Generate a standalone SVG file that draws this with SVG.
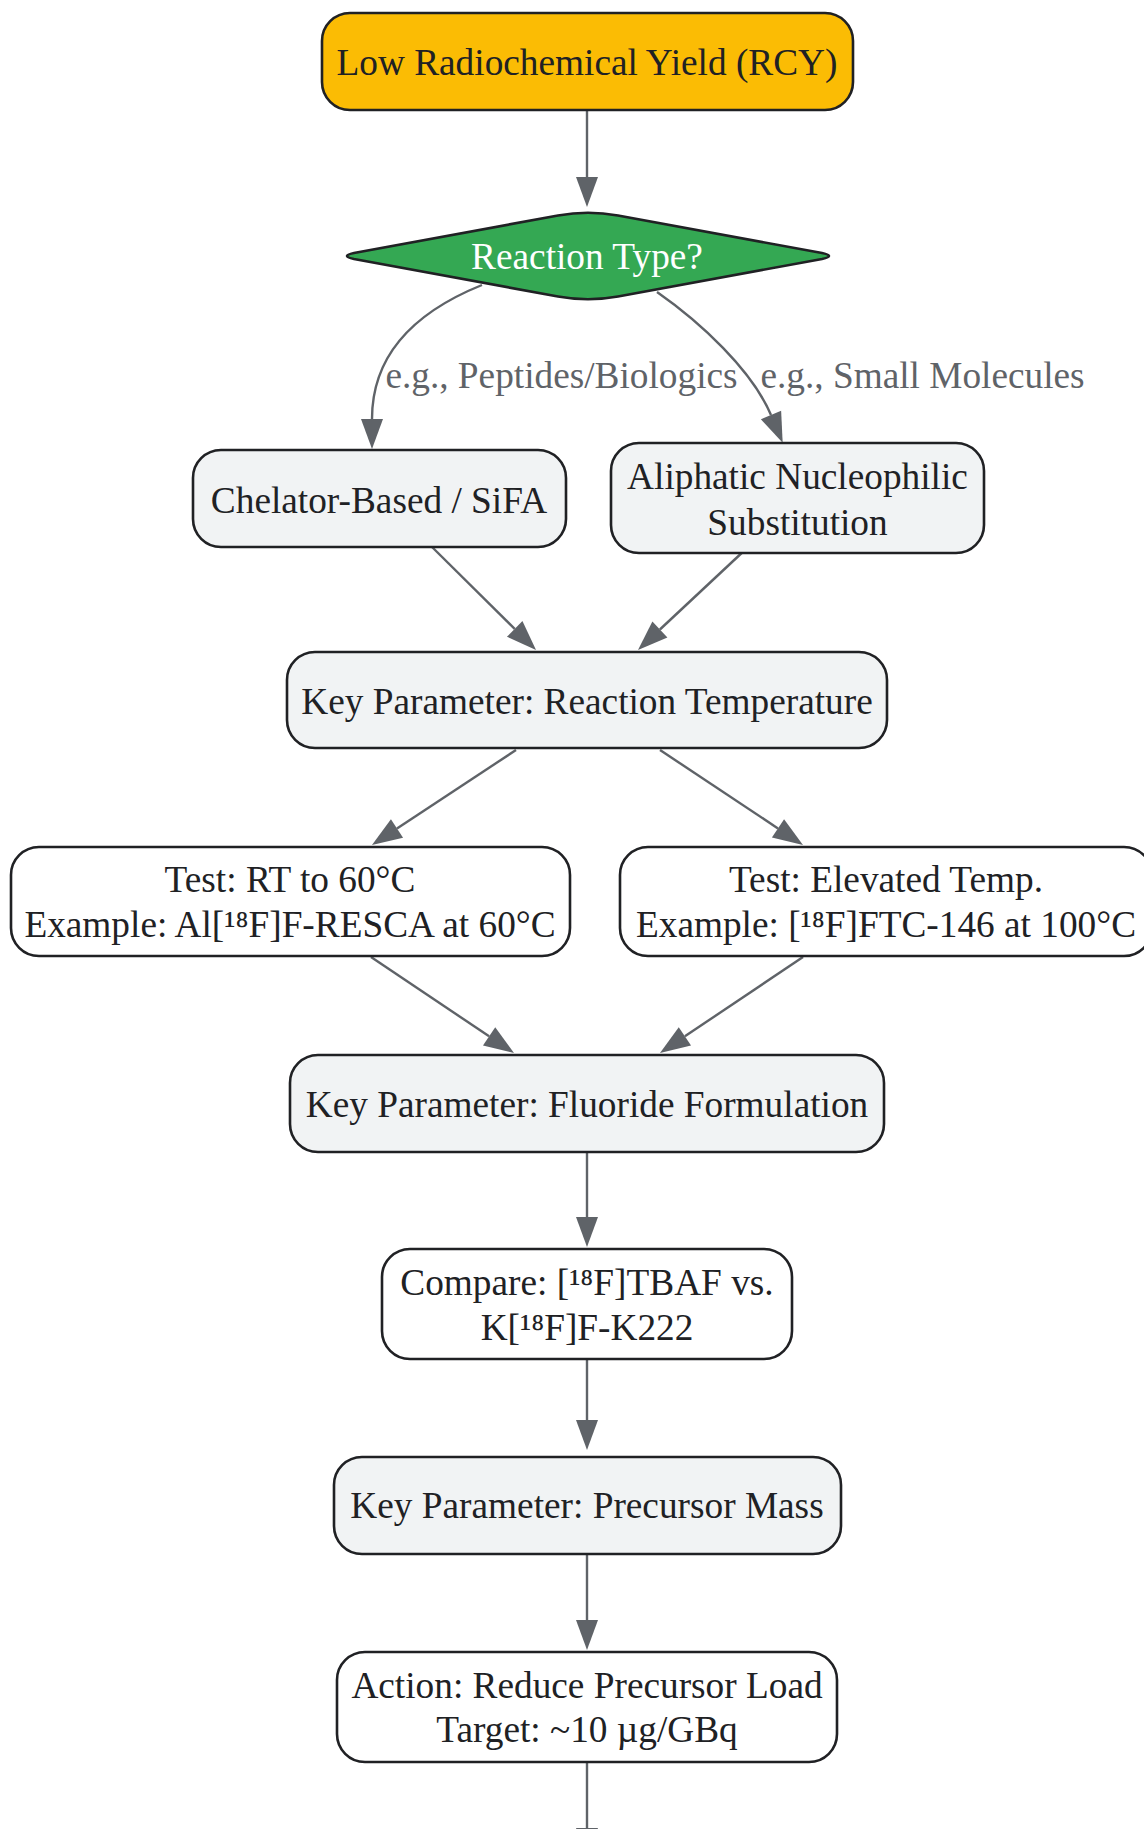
<svg xmlns="http://www.w3.org/2000/svg" width="1144" height="1829" viewBox="0 0 1144 1829">
<defs>
<marker id="arr" markerUnits="userSpaceOnUse" markerWidth="30" markerHeight="22" refX="0" refY="11" orient="auto" viewBox="0 0 30 22" overflow="visible">
<path d="M0,0 L30,11 L0,22 z" fill="#5f6368"/>
</marker>
<style>
.n{stroke:#202124;stroke-width:2.6}
.gray{fill:#f1f3f4}
.white{fill:#ffffff}
.t{font-family:"Liberation Serif","DejaVu Serif",serif;font-size:37.3px;fill:#202124;text-anchor:middle}
.lbl{font-family:"Liberation Serif","DejaVu Serif",serif;font-size:37.3px;fill:#5f6368;text-anchor:middle}
.e{fill:none;stroke:#5f6368;stroke-width:2.4;marker-end:url(#arr)}
</style>
</defs>
<rect width="1144" height="1829" fill="#ffffff"/>
<g id="edges">
<path class="e" d="M587,110 L587,177"/>
<path class="e" d="M482,285 C420,310 372,350 372,419"/>
<path class="e" d="M657,292 C700,322 752,370 771,415"/>
<path class="e" d="M432,547 L514.7,628.9"/>
<path class="e" d="M741.7,553 L659.9,629.5"/>
<path class="e" d="M516,750 L397,828.5"/>
<path class="e" d="M660,750 L778,828.4"/>
<path class="e" d="M371,957 L489.1,1036.3"/>
<path class="e" d="M803,957 L684.9,1036.3"/>
<path class="e" d="M587,1152 L587,1217"/>
<path class="e" d="M587,1359 L587,1420"/>
<path class="e" d="M587,1554 L587,1620"/>
<path class="e" d="M587,1762 L587,1828"/>
<text class="lbl" x="561.5" y="388">e.g., Peptides/Biologics</text>
<text class="lbl" x="922.5" y="388">e.g., Small Molecules</text>
</g>
<g id="nodeA">
<rect class="n" x="322" y="13" width="531" height="97" rx="28" fill="#fbbc04"/>
<text class="t" x="587" y="75">Low Radiochemical Yield (RCY)</text>
</g>
<g id="nodeB">
<path class="n" fill="#34a853" d="M354,253 L558,215.5 Q588,210 618,215.5 L822,253 Q836,256 822,259 L618,296.5 Q588,302 558,296.5 L354,259 Q340,256 354,253 Z"/>
<text class="t" x="587" y="269" style="fill:#ffffff">Reaction Type?</text>
</g>
<g id="nodeC">
<rect class="n gray" x="193" y="450" width="373" height="97" rx="28"/>
<text class="t" x="379" y="513">Chelator-Based / SiFA</text>
</g>
<g id="nodeD">
<rect class="n gray" x="611" y="443" width="373" height="110" rx="28"/>
<text class="t" x="797.5" y="489">Aliphatic Nucleophilic</text>
<text class="t" x="797.5" y="535">Substitution</text>
</g>
<g id="nodeE">
<rect class="n gray" x="287" y="652" width="600" height="96" rx="28"/>
<text class="t" x="587" y="714">Key Parameter: Reaction Temperature</text>
</g>
<g id="nodeF">
<rect class="n white" x="11" y="847" width="559" height="109" rx="28"/>
<text class="t" x="290" y="892">Test: RT to 60°C</text>
<text class="t" x="290" y="937">Example: Al[¹⁸F]F-RESCA at 60°C</text>
</g>
<g id="nodeG">
<rect class="n white" x="620" y="847" width="532" height="109" rx="28"/>
<text class="t" x="886" y="892">Test: Elevated Temp.</text>
<text class="t" x="886" y="937">Example: [¹⁸F]FTC-146 at 100°C</text>
</g>
<g id="nodeH">
<rect class="n gray" x="290" y="1055" width="594" height="97" rx="28"/>
<text class="t" x="587" y="1117">Key Parameter: Fluoride Formulation</text>
</g>
<g id="nodeI">
<rect class="n white" x="382" y="1249" width="410" height="110" rx="28"/>
<text class="t" x="587" y="1295">Compare: [¹⁸F]TBAF vs.</text>
<text class="t" x="587" y="1340">K[¹⁸F]F-K222</text>
</g>
<g id="nodeJ">
<rect class="n gray" x="334" y="1457" width="507" height="97" rx="28"/>
<text class="t" x="587" y="1518">Key Parameter: Precursor Mass</text>
</g>
<g id="nodeK">
<rect class="n white" x="337" y="1652" width="500" height="110" rx="28"/>
<text class="t" x="587" y="1698">Action: Reduce Precursor Load</text>
<text class="t" x="587" y="1742">Target: ~10 µg/GBq</text>
</g>
</svg>
